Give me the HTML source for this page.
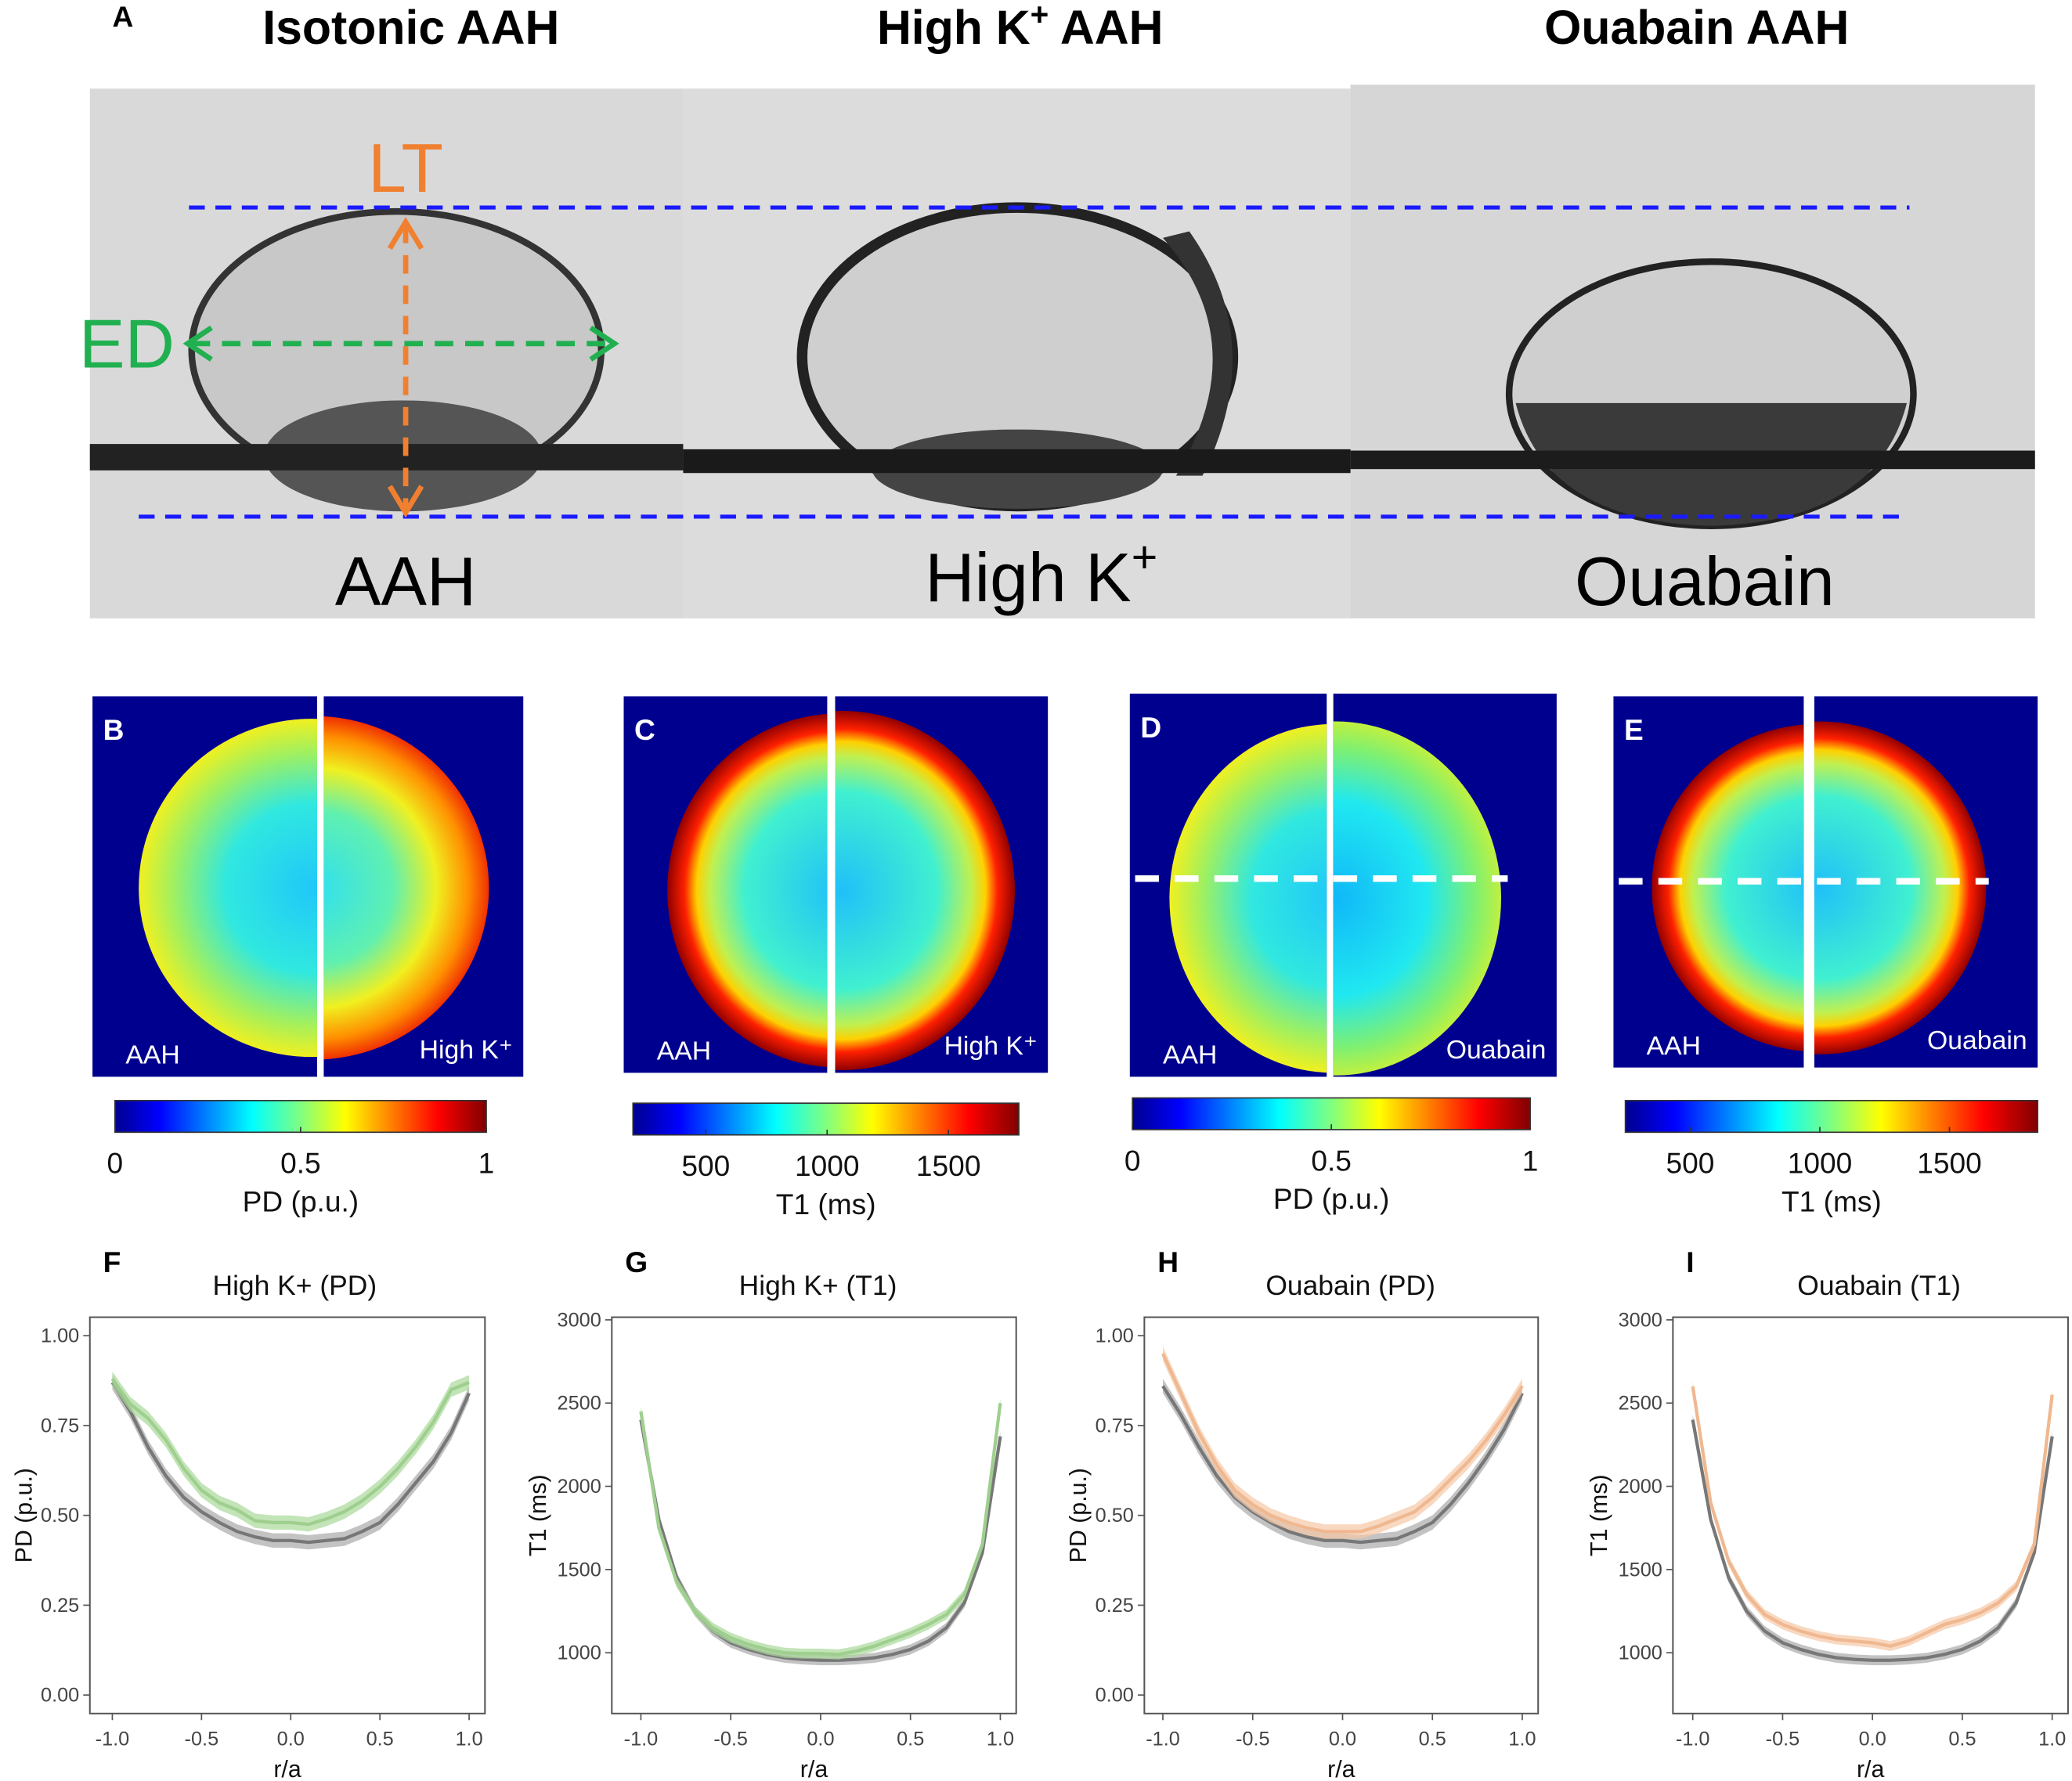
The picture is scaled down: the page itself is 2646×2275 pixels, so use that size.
<!DOCTYPE html>
<html><head><meta charset="utf-8"><style>
html,body{margin:0;padding:0;background:#fff}
svg{display:block;font-family:"Liberation Sans",sans-serif}
</style></head><body>
<svg id="fig" width="2646" height="2275" viewBox="0 0 1568 1348" xmlns="http://www.w3.org/2000/svg">
<defs>
<linearGradient id="jet" x1="0" x2="1" y1="0" y2="0">
<stop offset="0" stop-color="#00008f"/><stop offset="0.12" stop-color="#0000ff"/><stop offset="0.37" stop-color="#00ffff"/><stop offset="0.5" stop-color="#80ff80"/><stop offset="0.62" stop-color="#ffff00"/><stop offset="0.87" stop-color="#ff0000"/><stop offset="1" stop-color="#800000"/>
</linearGradient>
<radialGradient id="pdA"><stop offset="0" stop-color="#20c8f8"/><stop offset="0.5" stop-color="#30e8e0"/><stop offset="0.8" stop-color="#a0f060"/><stop offset="1" stop-color="#f0f020"/></radialGradient>
<radialGradient id="pdK"><stop offset="0" stop-color="#30e0f0"/><stop offset="0.45" stop-color="#60f0b0"/><stop offset="0.7" stop-color="#f0f020"/><stop offset="0.88" stop-color="#ff9000"/><stop offset="1" stop-color="#f03000"/></radialGradient>
<radialGradient id="pdO"><stop offset="0" stop-color="#10b8f8"/><stop offset="0.55" stop-color="#20e8f0"/><stop offset="0.85" stop-color="#80f070"/><stop offset="1" stop-color="#c0f040"/></radialGradient>
<radialGradient id="t1"><stop offset="0" stop-color="#20c0f8"/><stop offset="0.55" stop-color="#40f0d0"/><stop offset="0.75" stop-color="#c0f050"/><stop offset="0.83" stop-color="#ffd000"/><stop offset="0.9" stop-color="#ff2000"/><stop offset="1" stop-color="#900000"/></radialGradient>
</defs>
<g id="panelA">
<text x="85" y="20" font-size="22" font-weight="bold">A</text>
<text x="311" y="33" font-size="36" font-weight="bold" text-anchor="middle">Isotonic AAH</text>
<text x="772" y="33" font-size="36" font-weight="bold" text-anchor="middle">High K<tspan font-size="24" dy="-14">+</tspan><tspan dy="14"> AAH</tspan></text>
<text x="1284" y="33" font-size="36" font-weight="bold" text-anchor="middle">Ouabain AAH</text>
<rect x="68" y="67" width="449" height="401" fill="#d9d9d9"/>
<rect x="517" y="67" width="505" height="401" fill="#dcdcdc"/>
<rect x="1022" y="64" width="518" height="404" fill="#d6d6d6"/>
<ellipse cx="300" cy="265" rx="155" ry="105" fill="#c8c8c8" stroke="#333" stroke-width="5"/>
<ellipse cx="305" cy="345" rx="105" ry="42" fill="#555"/>
<ellipse cx="770" cy="270" rx="163" ry="113" fill="#cfcfcf" stroke="#222" stroke-width="8"/>
<path d="M880 180 Q950 260 890 360 L910 360 Q960 260 900 175Z" fill="#333"/>
<ellipse cx="770" cy="355" rx="110" ry="30" fill="#444"/>
<ellipse cx="1295" cy="298" rx="153" ry="100" fill="#cfcfcf" stroke="#222" stroke-width="5"/>
<path d="M1147 305 L1443 305 Q1420 395 1295 398 Q1170 395 1147 305Z" fill="#3a3a3a"/>
<rect x="68" y="336" width="449" height="20" fill="#222"/>
<rect x="517" y="340" width="505" height="18" fill="#1a1a1a"/>
<rect x="1022" y="341" width="518" height="14" fill="#1c1c1c"/>
<line x1="143" y1="157" x2="1445" y2="157" stroke="#1a1aff" stroke-width="3" stroke-dasharray="12,8"/>
<line x1="105" y1="391" x2="1440" y2="391" stroke="#1a1aff" stroke-width="3" stroke-dasharray="12,8"/>
<line x1="307" y1="170" x2="307" y2="385" stroke="#f08030" stroke-width="4" stroke-dasharray="14,9"/>
<path d="M295 188 L307 168 L319 188 M295 368 L307 388 L319 368" fill="none" stroke="#f08030" stroke-width="4"/>
<line x1="145" y1="260" x2="462" y2="260" stroke="#20b050" stroke-width="4" stroke-dasharray="14,9"/>
<path d="M160 248 L142 260 L160 272 M447 248 L465 260 L447 272" fill="none" stroke="#20b050" stroke-width="4"/>
<text x="307" y="145" font-size="52" fill="#f08030" text-anchor="middle">LT</text>
<text x="96" y="278" font-size="52" fill="#20b050" text-anchor="middle">ED</text>
<text x="307" y="458" font-size="52" text-anchor="middle">AAH</text>
<text x="788" y="455" font-size="52" text-anchor="middle">High K<tspan font-size="34" dy="-22">+</tspan></text>
<text x="1290" y="458" font-size="52" text-anchor="middle">Ouabain</text>
</g>
<g id="maps"></g>
<g id="charts"></g>
</svg>
<script>
// ---------- line-chart data ----------
const ra = [-1,-0.9,-0.8,-0.7,-0.6,-0.5,-0.4,-0.3,-0.2,-0.1,0,0.1,0.2,0.3,0.4,0.5,0.6,0.7,0.8,0.9,1];
const pdAAH = [0.87,0.79,0.69,0.61,0.55,0.51,0.48,0.455,0.44,0.43,0.43,0.425,0.43,0.435,0.455,0.48,0.53,0.59,0.65,0.73,0.84];
const pdHighK = [0.88,0.81,0.77,0.71,0.63,0.57,0.535,0.515,0.485,0.48,0.48,0.475,0.49,0.51,0.54,0.58,0.63,0.69,0.76,0.85,0.87];
const pdAAH2 = [0.86,0.78,0.69,0.61,0.55,0.51,0.48,0.455,0.44,0.43,0.43,0.425,0.43,0.435,0.455,0.48,0.53,0.59,0.66,0.74,0.84];
const pdOuabain = [0.95,0.84,0.73,0.64,0.57,0.53,0.5,0.48,0.465,0.455,0.455,0.455,0.47,0.49,0.51,0.55,0.6,0.65,0.71,0.78,0.86];
const t1AAH = [2400,1800,1450,1250,1130,1060,1020,990,970,960,955,955,960,970,990,1020,1070,1150,1300,1600,2300];
const t1HighK = [2450,1750,1420,1250,1150,1090,1050,1020,1000,995,995,990,1010,1040,1080,1120,1170,1230,1350,1650,2500];
const t1Ouabain = [2600,1900,1550,1350,1230,1170,1130,1100,1080,1070,1060,1040,1070,1120,1170,1200,1240,1300,1400,1650,2550];
const pdTicks = [0,0.25,0.5,0.75,1];
const pdTickLabels = ["0.00","0.25","0.50","0.75","1.00"];
const t1Ticks = [1000,1500,2000,2500,3000];
const t1TickLabels = ["1000","1500","2000","2500","3000"];
const xTicks = [-1,-0.5,0,0.5,1];
const xTickLabels = ["-1.0","-0.5","0.0","0.5","1.0"];
const pdBand = [0.02];
const t1Band = [30];
// colorbar tick data
const pdBarTicks = [0,0.5,1];
const pdBarLabels = ["0","0.5","1"];
const t1BarTicks = [500,1000,1500];
const t1BarLabels = ["500","1000","1500"];

const NS="http://www.w3.org/2000/svg";
function mk(parent,tag,attrs,text){const e=document.createElementNS(NS,tag);for(const k in attrs)e.setAttribute(k,attrs[k]);if(text!==undefined)e.textContent=text;parent.appendChild(e);return e;}

// ---------- heatmaps ----------
const maps=document.getElementById('maps');
const mapSpecs=[
 {L:'B',lx:70,rx:245,top:527,lw:170,rw:151,h:288,cx:236,cy:672,erx:131,ery:128,lg:'pdA',rg:'pdK',ll:'AAH',rl:'High K⁺',dash:false,bar:{x:87,y:833,w:281,kind:'pd',vmin:0,vmax:1}},
 {L:'C',lx:472,rx:632,top:527,lw:154,rw:161,h:285,cx:635,cy:674,erx:130,ery:134,lg:'t1',rg:'t1',ll:'AAH',rl:'High K⁺',dash:false,bar:{x:479,y:835,w:292,kind:'t1',vmin:200,vmax:1790}},
 {L:'D',lx:855,rx:1009,top:525,lw:149,rw:169,h:290,cx:1009,cy:680,erx:124,ery:132,lg:'pdA',rg:'pdO',ll:'AAH',rl:'Ouabain',dash:true,dy:665,bar:{x:857,y:831,w:301,kind:'pd',vmin:0,vmax:1}},
 {L:'E',lx:1221,rx:1373,top:527,lw:144,rw:169,h:281,cx:1375,cy:672,erx:125,ery:124,lg:'t1',rg:'t1',ll:'AAH',rl:'Ouabain',dash:true,dy:667,bar:{x:1230,y:833,w:312,kind:'t1',vmin:250,vmax:1840}}
];
mapSpecs.forEach((m,i)=>{
 const g=mk(maps,'g',{});
 
 
 mk(g,'clipPath',{id:'cl'+i}); mk(document.getElementById('cl'+i),'rect',{x:m.lx,y:m.top,width:m.lw,height:m.h});
 mk(g,'clipPath',{id:'cr'+i}); mk(document.getElementById('cr'+i),'rect',{x:m.rx,y:m.top,width:m.rw,height:m.h});
 mk(g,'rect',{x:m.lx,y:m.top,width:m.lw,height:m.h,fill:'#00008f'});
 mk(g,'rect',{x:m.rx,y:m.top,width:m.rw,height:m.h,fill:'#00008f'});
 mk(g,'ellipse',{cx:m.cx,cy:m.cy,rx:m.erx,ry:m.ery,fill:'url(#'+m.lg+')','clip-path':'url(#cl'+i+')'});
 mk(g,'ellipse',{cx:m.cx+2,cy:m.cy,rx:m.erx+1,ry:m.ery+2,fill:'url(#'+m.rg+')','clip-path':'url(#cr'+i+')'});
 if(m.dash) mk(g,'line',{x1:m.lx+4,x2:m.rx+m.rw-37,y1:m.dy,y2:m.dy,stroke:'#fff','stroke-width':5,'stroke-dasharray':'18,12'});
 mk(g,'text',{x:m.lx+8,y:m.top+33,'font-size':22,'font-weight':'bold',fill:'#fff'},m.L);
 mk(g,'text',{x:m.lx+25,y:m.top+m.h-10,'font-size':20,fill:'#fff'},m.ll);
 mk(g,'text',{x:m.rx+m.rw-8,y:m.top+m.h-14,'font-size':20,fill:'#fff','text-anchor':'end'},m.rl);
 const b=m.bar;
 const cb=mk(g,'rect',{x:b.x,y:b.y,width:b.w,height:24,fill:'url(#jet)',stroke:'#333','stroke-width':1});
 
 
 const ticks=b.kind==='pd'?pdBarTicks:t1BarTicks, labs=b.kind==='pd'?pdBarLabels:t1BarLabels;
 ticks.forEach((t,k)=>{const x=b.x+(t-b.vmin)/(b.vmax-b.vmin)*b.w;
  mk(g,'line',{x1:x,x2:x,y1:b.y+24,y2:b.y+20,stroke:'#333'});
  mk(g,'text',{x:x,y:b.y+55,'font-size':22,'text-anchor':'middle',fill:'#111'},labs[k]);});
 mk(g,'text',{x:b.x+b.w/2,y:b.y+84,'font-size':22,'text-anchor':'middle',fill:'#111'},b.kind==='pd'?'PD (p.u.)':'T1 (ms)');
});

// ---------- line charts ----------
const charts=document.getElementById('charts');
const chartSpecs=[
 {L:'F',title:'High K+ (PD)',bx:68,x0:85,x1:355,kind:'pd',s:[[pdAAH,'#777','#aaa'],[pdHighK,'#9fcf8f','#a8d898']]},
 {L:'G',title:'High K+ (T1)',bx:463,x0:485,x1:757,kind:'t1',s:[[t1AAH,'#777','#aaa'],[t1HighK,'#9fcf8f','#a8d898']]},
 {L:'H',title:'Ouabain (PD)',bx:866,x0:880,x1:1152,kind:'pd',s:[[pdAAH2,'#777','#aaa'],[pdOuabain,'#f0b890','#f5c8a5']]},
 {L:'I',title:'Ouabain (T1)',bx:1266,x0:1281,x1:1553,kind:'t1',s:[[t1AAH,'#777','#aaa'],[t1Ouabain,'#f0b890','#f5c8a5']]}
];
chartSpecs.forEach(c=>{
 const g=mk(charts,'g',{});
 
 
 const top=997,bot=1297,bw=c.x1-c.x0+32;
 const xs=v=>c.x0+(v+1)/2*(c.x1-c.x0);
 const pd=c.kind==='pd';
 const ys=pd?(v=>1283-v*272):(v=>1251-(v-1000)/2000*252);
 const band=pd?pdBand[0]:t1Band[0];
 mk(g,'text',{x:c.bx+10,y:963,'font-size':22,'font-weight':'bold'},c.L);
 mk(g,'text',{x:c.bx+bw/2+4,y:980,'font-size':21,'text-anchor':'middle',fill:'#111'},c.title);
 mk(g,'rect',{x:c.bx,y:top,width:c.x1-c.bx+12,height:bot-top,fill:'none',stroke:'#555','stroke-width':1.2});
 const ticks=pd?pdTicks:t1Ticks, labs=pd?pdTickLabels:t1TickLabels;
 ticks.forEach((t,k)=>{const y=ys(t);
  mk(g,'line',{x1:c.bx-5,x2:c.bx,y1:y,y2:y,stroke:'#555'});
  mk(g,'text',{x:c.bx-8,y:y+5,'font-size':15,'text-anchor':'end',fill:'#444'},labs[k]);});
 xTicks.forEach((t,k)=>{const x=xs(t);
  mk(g,'line',{x1:x,x2:x,y1:bot,y2:bot+5,stroke:'#555'});
  mk(g,'text',{x:x,y:bot+24,'font-size':15,'text-anchor':'middle',fill:'#444'},xTickLabels[k]);});
 mk(g,'text',{x:(c.bx+c.x1)/2+6,y:1345,'font-size':18,'text-anchor':'middle',fill:'#111'},'r/a');
 const ay=(top+bot)/2, ax=c.bx-(pd?52:58);
 mk(g,'text',{x:ax+8,y:ay,'font-size':18,'text-anchor':'middle',fill:'#111',transform:`rotate(-90 ${ax+8} ${ay})`},pd?'PD (p.u.)':'T1 (ms)');
 c.s.forEach(([vals,lc,bc],si)=>{
  let up=vals.map((v,i)=>xs(ra[i])+','+ys(v+band)).join(' ');
  let dn=vals.map((v,i)=>xs(ra[i])+','+ys(v-band)).reverse().join(' ');
  const poly=mk(g,'polygon',{points:up+' '+dn,fill:bc,'fill-opacity':0.7});
  
  
  const line=mk(g,'polyline',{points:vals.map((v,i)=>xs(ra[i])+','+ys(v)).join(' '),fill:'none',stroke:lc,'stroke-width':2.5});
  
  
 });
});
</script>
</body></html>
